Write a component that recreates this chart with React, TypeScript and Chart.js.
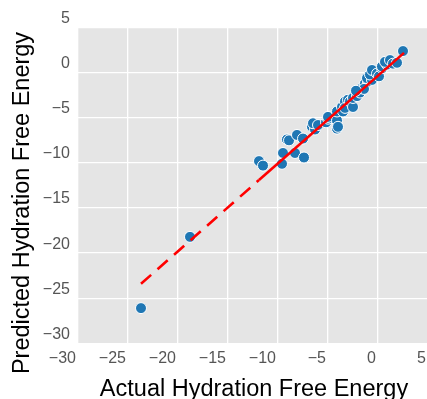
import React, { useEffect, useRef } from "react";
import { Chart, registerables } from "chart.js";

Chart.register(...registerables);

// Scatter data: actual vs predicted hydration free energy
const actualX = [
  -23.7, -18.8, -11.9, -11.5, -9.5, -9.6, -9.1, -8.9, -8.1, -7.5, -8.3, -7.4,
  -6.6, -6.3, -6.5, -6.0, -5.2, -5.0, -5.0, -4.1, -4.1, -4.0, -4.1, -3.6,
  -3.5, -3.3, -3.3, -3.0, -2.8, -2.5, -2.5, -2.1, -1.8, -1.6, -1.3, -1.0,
  -1.1, -0.6, -0.8, -0.6, -0.1, 0.1, 0.4, 0.4, 0.9, 0.7, 1.2, 1.5, 1.9, 2.5,
  -1.4, -2.2,
];
const predictedY = [
  -26.1, -18.2, -9.8, -10.3, -8.9, -10.1, -7.4, -7.5, -6.9, -7.3, -8.9, -9.4,
  -6.0, -6.3, -5.6, -5.8, -5.5, -5.1, -4.9, -5.3, -6.2, -6.0, -4.3, -3.8,
  -4.3, -3.2, -3.9, -3.0, -3.2, -3.8, -2.8, -2.6, -2.2, -1.7, -1.2, -1.0,
  -0.6, -0.8, -0.2, 0.3, -0.1, -0.4, 0.5, 0.7, 0.9, 1.2, 1.4, 1.0, 1.1, 2.4,
  -1.8, -2.0,
];

// Fit line (dashed segment, then dense solid-looking segment)
const fitX = [-23.7, -11.9, 2.6];
const fitY = [-23.4, -11.9, 2.2];

const tickValues = [-30, -25, -20, -15, -10, -5, 0, 5];

const xTitle = "Actual Hydration Free Energy";
const yTitle = "Predicted Hydration Free Energy";

const fmt = (v: number) => String(v).replace("-", "\u2212");

export default function App() {
  const ref = useRef<HTMLCanvasElement | null>(null);

  useEffect(() => {
    const canvas = ref.current;
    if (!canvas) return;

    const bgPlugin = {
      id: "bg",
      beforeDraw(chart: any) {
        const { ctx, chartArea } = chart;
        ctx.save();
        ctx.fillStyle = "#ffffff";
        ctx.fillRect(0, 0, chart.width, chart.height);
        ctx.fillStyle = "#E5E5E5";
        ctx.fillRect(
          chartArea.left,
          chartArea.top,
          chartArea.right - chartArea.left,
          chartArea.bottom - chartArea.top
        );
        ctx.restore();
      },
      afterDraw(chart: any) {
        const { ctx } = chart;
        ctx.save();
        ctx.fillStyle = "#000000";
        ctx.font = '23.5px "Liberation Sans", Arial, sans-serif';
        ctx.textAlign = "center";
        ctx.textBaseline = "alphabetic";
        ctx.fillText(xTitle, 254, 396);
        ctx.translate(29, 203);
        ctx.rotate(-Math.PI / 2);
        ctx.fillText(yTitle, 0, 0);
        ctx.restore();
      },
    };

    const chart = new Chart(canvas, {
      type: "scatter",
      data: {
        datasets: [
          {
            type: "line",
            data: fitX.map((x, i) => ({ x, y: fitY[i] })),
            borderColor: "#ff0000",
            borderWidth: 2.6,
            pointRadius: 0,
            fill: false,
            order: 0,
            segment: {
              borderDash: (c: any) => (c.p0DataIndex === 0 ? [13.5, 8.5] : []),
            },
          } as any,
          {
            data: actualX.map((x, i) => ({ x, y: predictedY[i] })),
            backgroundColor: "#1f77b4",
            borderColor: "#ffffff",
            borderWidth: 1,
            pointRadius: 5.5,
            order: 1,
          },
        ],
      },
      options: {
        animation: false,
        responsive: false,
        layout: { padding: { left: 0, top: 27.6, right: 12, bottom: 0 } },
        plugins: { legend: { display: false }, tooltip: { enabled: false } },
        scales: {
          x: {
            type: "linear",
            min: -30,
            max: 5,
            afterFit: (s: any) => {
              s.height = 55.7;
            },
            afterBuildTicks: (s: any) => {
              s.ticks = tickValues.map((v) => ({ value: v }));
            },
            border: { display: false },
            grid: { color: "#ffffff", lineWidth: 1.3, drawTicks: false },
            ticks: {
              align: "end",
              labelOffset: -2,
              padding: 6,
              color: "#555555",
              font: { family: '"Liberation Sans", Arial, sans-serif', size: 16 },
              callback: (v: any) => fmt(v),
              maxRotation: 0,
              autoSkip: false,
            },
          },
          y: {
            type: "linear",
            min: -30,
            max: 5,
            afterFit: (s: any) => {
              s.width = 78;
            },
            afterBuildTicks: (s: any) => {
              s.ticks = tickValues.map((v) => ({ value: v }));
            },
            border: { display: false },
            grid: { color: "#ffffff", lineWidth: 1.3, drawTicks: false },
            ticks: {
              labelOffset: -9,
              padding: 8,
              color: "#555555",
              font: { family: '"Liberation Sans", Arial, sans-serif', size: 16 },
              callback: (v: any) => fmt(v),
              autoSkip: false,
            },
          },
        },
      },
      plugins: [bgPlugin],
    });

    return () => chart.destroy();
  }, []);

  return (
    <div
      style={{
        position: "fixed",
        left: 0,
        top: 0,
        width: "427px",
        height: "399px",
        overflow: "hidden",
        background: "#fff",
      }}
    >
      <canvas
        ref={ref}
        width={440}
        height={399}
        style={{ display: "block", width: "440px", height: "399px" }}
      />
    </div>
  );
}
